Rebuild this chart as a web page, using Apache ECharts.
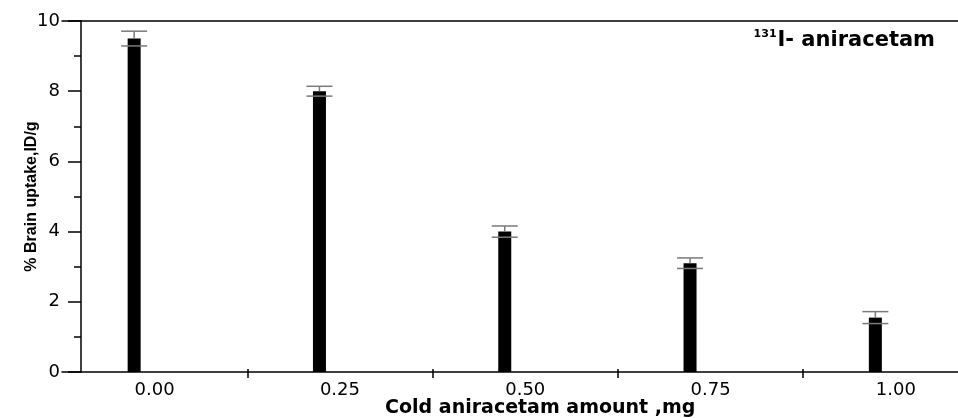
<!DOCTYPE html>
<html>
<head>
<meta charset="utf-8">
<script src="https://cdn.jsdelivr.net/npm/echarts@6/dist/echarts.min.js"></script>
<style>
html,body{margin:0;padding:0;background:#fff;}
#chart{width:958px;height:418px;}
</style>
</head>
<body>
<div id="chart"></div>
<script>
// ---- data ----
const categories = ['0.00', '0.25', '0.50', '0.75', '1.00'];
const uptake = [9.5, 8.0, 4.0, 3.1, 1.55];
const errors = [0.21, 0.14, 0.16, 0.15, 0.17];
const yTicks = [0, 2, 4, 6, 8, 10];

// ---- style constants ----
const BAR_OFFSET = -20.5;
const BAR_W = 13;
const CAP_HALF = 13;
const ERR_COLOR = '#7a7a7a';

const chart = echarts.init(document.getElementById('chart'));

const seriesData = categories.map((c, i) => [i, uptake[i], errors[i]]);

const option = {
  animation: false,
  backgroundColor: '#fff',
  grid: { left: 62, right: -30.5, top: 21, bottom: 46, containLabel: false, outerBoundsMode: 'none' },
  title: {
    right: 18,
    top: 24,
    text: '{sup|131}{main|I- aniracetam}',
    textStyle: {
      rich: {
        sup: { fontFamily: 'DejaVu Sans', fontWeight: 'bold', fontSize: 11, color: '#000', verticalAlign: 'top', padding: [0, 1, 12, 0] },
        main: { fontFamily: 'DejaVu Sans', fontWeight: 'bold', fontSize: 21, color: '#000' }
      }
    }
  },
  xAxis: [
    {
      type: 'category',
      data: categories,
      position: 'bottom',
      boundaryGap: true,
      axisLine: { show: true, lineStyle: { color: '#000', width: 1.5 } },
      axisTick: { show: true, inside: false, length: 6, lineStyle: { color: '#000', width: 1.5 }, interval: function (i) { return i > 0; } },
      axisLabel: { show: true, color: '#000', fontFamily: 'DejaVu Sans', fontSize: 18, margin: 9 },
      name: 'Cold aniracetam amount ,mg',
      nameLocation: 'middle',
      nameGap: 27,
      nameMoveOverlap: false,
      nameTextStyle: { fontFamily: 'DejaVu Sans', fontWeight: 'bold', fontSize: 19, color: '#000', padding: [0, 0, 0, 30] },
      splitLine: { show: false }
    },
    {
      type: 'category',
      data: categories,
      position: 'bottom',
      boundaryGap: true,
      axisLine: { show: false },
      axisTick: { show: true, inside: true, length: 3, lineStyle: { color: '#000', width: 1.5 }, interval: function (i) { return i > 0; } },
      axisLabel: { show: false },
      splitLine: { show: false }
    },
    {
      type: 'category',
      data: categories,
      position: 'top',
      axisLine: { show: true, lineStyle: { color: '#000', width: 1.5 } },
      axisTick: { show: false },
      axisLabel: { show: false },
      splitLine: { show: false }
    }
  ],
  yAxis: {
    type: 'value',
    min: yTicks[0],
    max: yTicks[yTicks.length - 1],
    interval: 2,
    offset: -19,
    axisLine: { show: true, lineStyle: { color: '#000', width: 1.5 } },
    axisTick: { show: true, inside: false, length: 13, lineStyle: { color: '#000', width: 1.5 } },
    minorTick: { show: true, splitNumber: 2, length: 7, lineStyle: { color: '#000', width: 1.5 } },
    axisLabel: { color: '#000', fontFamily: 'DejaVu Sans', fontSize: 18, margin: 21 },
    splitLine: { show: false },
    minorSplitLine: { show: false },
    name: '% Brain uptake,ID/g',
    nameLocation: 'middle',
    nameGap: 41,
    nameMoveOverlap: false,
    nameTextStyle: { fontFamily: 'Liberation Sans', fontWeight: 'bold', fontSize: 16, color: '#000' }
  },
  series: [
    {
      type: 'custom',
      xAxisIndex: 0,
      yAxisIndex: 0,
      data: seriesData,
      encode: { x: 0, y: 1 },
      renderItem: function (params, api) {
        const idx = api.value(0);
        const v = api.value(1);
        const e = api.value(2);
        const base = api.coord([idx, 0]);
        const top = api.coord([idx, v]);
        const hi = api.coord([idx, v + e]);
        const lo = api.coord([idx, v - e]);
        const x = top[0] + BAR_OFFSET;
        const ls = { stroke: ERR_COLOR, lineWidth: 1.5 };
        return {
          type: 'group',
          children: [
            { type: 'rect', shape: { x: x - BAR_W / 2, y: top[1], width: BAR_W, height: base[1] - top[1] }, style: { fill: '#000' } },
            { type: 'line', shape: { x1: x, y1: hi[1], x2: x, y2: top[1] }, style: ls },
            { type: 'line', shape: { x1: x - CAP_HALF, y1: hi[1], x2: x + CAP_HALF, y2: hi[1] }, style: ls },
            { type: 'line', shape: { x1: x - CAP_HALF, y1: lo[1], x2: x + CAP_HALF, y2: lo[1] }, style: ls }
          ]
        };
      }
    }
  ]
};

chart.setOption(option);
</script>
</body>
</html>
